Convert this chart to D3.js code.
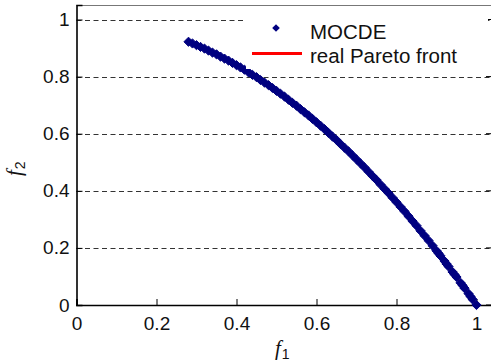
<!DOCTYPE html>
<html>
<head>
<meta charset="utf-8">
<script src="https://cdn.jsdelivr.net/npm/d3@7"></script>
<style>
  body { margin: 0; background: #fff; }
  svg { display: block; font-family: "Liberation Sans", Arial, sans-serif; }
</style>
</head>
<body>
<div id="chartArea"></div>
<script>
// MOCDE solutions (f1, f2)
const mocdeF1 = [0.28,0.29,0.30,0.31,0.32,0.33,0.34,0.35,0.36,0.37,0.38,0.39,0.40,0.41,0.42,0.43,0.44,0.45,0.46,0.47,
  0.48,0.49,0.50,0.51,0.52,0.53,0.54,0.55,0.56,0.57,0.58,0.59,0.60,0.61,0.62,0.63,0.64,0.65,0.66,0.67,
  0.68,0.69,0.70,0.71,0.72,0.73,0.74,0.75,0.76,0.77,0.78,0.79,0.80,0.81,0.82,0.83,0.84,0.85,0.86,0.87,
  0.88,0.89,0.90,0.905,0.91,0.92,0.925,0.93,0.94,0.945,0.95,0.96,0.965,0.97,0.98,0.985,0.99,1.00];
const mocdeF2 = [0.922,0.916,0.910,0.904,0.898,0.891,0.884,0.878,0.870,0.863,0.856,0.848,0.840,0.832,0.824,0.815,0.806,0.798,0.788,0.779,
  0.770,0.760,0.750,0.740,0.730,0.719,0.708,0.698,0.686,0.675,0.664,0.652,0.640,0.628,0.616,0.603,0.590,0.578,0.564,0.551,
  0.538,0.524,0.510,0.496,0.482,0.467,0.452,0.438,0.422,0.407,0.392,0.376,0.360,0.344,0.328,0.311,0.294,0.278,0.260,0.243,
  0.226,0.208,0.190,0.181,0.172,0.154,0.144,0.135,0.116,0.107,0.098,0.078,0.069,0.059,0.040,0.030,0.020,0.000];

// real Pareto front
const frontF1 = [0.28,0.32,0.36,0.40,0.44,0.48,0.52,0.56,0.60,0.64,0.68,0.72,0.76,0.80,0.84,0.88,0.92,0.96,1.00];
const frontF2 = [0.922,0.898,0.870,0.840,0.806,0.770,0.730,0.686,0.640,0.590,0.538,0.482,0.422,0.360,0.294,0.226,0.154,0.078,0.000];

const xTicks = [0, 0.2, 0.4, 0.6, 0.8, 1];
const yTicks = [0, 0.2, 0.4, 0.6, 0.8, 1];
const legendLabels = ["MOCDE", "real Pareto front"];

const W = 491, H = 363;
const mLeft = 76.5, mRight = 492, mTop = 5, mBottom = 305;
const navy = "#000080";

const svg = d3.select("#chartArea").append("svg")
  .attr("width", W)
  .attr("height", H);

const x = d3.scaleLinear().domain([0, (mRight - mLeft) / 400]).range([mLeft, mRight]);
const y = d3.scaleLinear().domain([0, (mBottom - mTop) / 285.5]).range([mBottom, mTop]);

// grid lines
svg.append("g").selectAll("line")
  .data(yTicks.filter(d => d > 0))
  .enter().append("line")
    .attr("x1", mLeft).attr("x2", mRight)
    .attr("y1", d => Math.round(y(d)) + 0.5)
    .attr("y2", d => Math.round(y(d)) + 0.5)
    .attr("stroke", "#333")
    .attr("stroke-dasharray", "5,3.5");

// box top
svg.append("line").attr("x1", mLeft).attr("x2", mRight).attr("y1", mTop + 0.5).attr("y2", mTop + 0.5)
  .attr("stroke", "#777").attr("stroke-width", 1.2);

// x axis (ticks inward)
const xAxis = svg.append("g")
  .attr("transform", `translate(0,${mBottom})`)
  .call(d3.axisBottom(x).tickValues(xTicks).tickSize(-6).tickPadding(12).tickFormat(d3.format("")));
xAxis.select(".domain").attr("stroke", "#000").attr("stroke-width", 1.6);
xAxis.selectAll(".tick line").attr("stroke", "#000");
xAxis.selectAll("text").attr("font-size", "19px").attr("fill", "#111")
  .attr("font-family", "Liberation Sans, Arial, sans-serif");

const yAxis = svg.append("g")
  .attr("transform", `translate(${mLeft},0)`)
  .call(d3.axisLeft(y).tickValues(yTicks).tickSize(-6).tickPadding(7).tickFormat(d3.format("")));
yAxis.select(".domain").attr("stroke", "#000").attr("stroke-width", 1.6);
yAxis.selectAll(".tick line").attr("stroke", "#000");
yAxis.selectAll("text").attr("font-size", "19px").attr("fill", "#111")
  .attr("font-family", "Liberation Sans, Arial, sans-serif");

// right-side ticks
svg.append("g").selectAll("line")
  .data(yTicks)
  .enter().append("line")
    .attr("x1", mRight - 6).attr("x2", mRight)
    .attr("y1", d => y(d)).attr("y2", d => y(d))
    .attr("stroke", "#000");

// real Pareto front line
const front = frontF1.map((d, i) => [d, frontF2[i]]);
svg.append("path")
  .datum(front)
  .attr("fill", "none")
  .attr("stroke", "red")
  .attr("stroke-width", 2)
  .attr("d", d3.line().x(d => x(d[0])).y(d => y(d[1])));

// MOCDE markers
const diamond = r => `M0,${-r}L${r},0L0,${r}L${-r},0Z`;
svg.append("g").selectAll("path")
  .data(mocdeF1.map((d, i) => [d, mocdeF2[i]]))
  .enter().append("path")
    .attr("d", diamond(4.6))
    .attr("transform", d => `translate(${x(d[0])},${y(d[1])})`)
    .attr("fill", navy)
    .attr("stroke", navy)
    .attr("stroke-width", 1);

// legend
const lg = svg.append("g");
lg.append("rect").attr("x", 246).attr("y", 9).attr("width", 242).attr("height", 60).attr("fill", "#fff");
lg.append("path").attr("d", diamond(3.8)).attr("transform", "translate(276,28)").attr("fill", navy);
lg.append("line").attr("x1", 252).attr("x2", 302).attr("y1", 53.5).attr("y2", 53.5)
  .attr("stroke", "red").attr("stroke-width", 3);
lg.selectAll("text")
  .data(legendLabels)
  .enter().append("text")
    .attr("x", 310)
    .attr("y", (d, i) => 38.5 + i * 24.5)
    .attr("font-size", "20.5px")
    .attr("fill", "#111")
    .text(d => d);

// axis labels
const xl = svg.append("text")
  .attr("x", 275).attr("y", 355)
  .attr("font-family", "Liberation Serif, Times New Roman, serif")
  .attr("font-size", "21px").attr("font-style", "italic").attr("fill", "#111");
xl.append("tspan").text("f");
xl.append("tspan").attr("dy", 4).attr("dx", 1).attr("font-size", "14px").attr("font-style", "normal")
  .attr("font-family", "Liberation Sans, Arial, sans-serif").text("1");

const yl = svg.append("text")
  .attr("transform", "translate(21,176) rotate(-90)")
  .attr("font-family", "Liberation Serif, Times New Roman, serif")
  .attr("font-size", "21px").attr("font-style", "italic").attr("fill", "#111");
yl.append("tspan").text("f");
yl.append("tspan").attr("dy", 4).attr("dx", 1).attr("font-size", "14px").attr("font-style", "normal")
  .attr("font-family", "Liberation Sans, Arial, sans-serif").text("2");
</script>
</body>
</html>
